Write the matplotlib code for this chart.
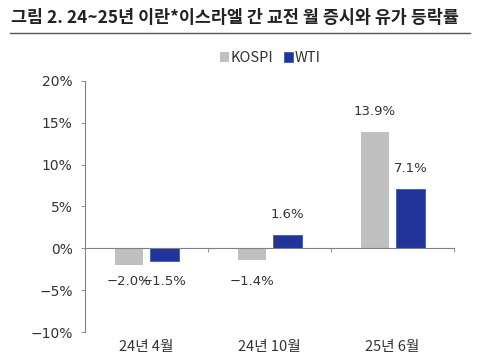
import numpy as np
import matplotlib
matplotlib.use('Agg')
import matplotlib.pyplot as plt
from matplotlib.ticker import FuncFormatter

plt.rcParams['font.family'] = ['Noto Sans CJK KR', 'DejaVu Sans']

# Data
categories = ['24년 4월', '24년 10월', '25년 6월']
kospi = [-2.0, -1.4, 13.9]
wti = [-1.5, 1.6, 7.1]
series_names = ['KOSPI', 'WTI']

kospi_color = '#c0c0c0'
wti_color = '#22349a'
text_color = '#333333'

fig = plt.figure(figsize=(4.81, 3.61), dpi=100)
ax = fig.add_axes([0.177, 0.080, 0.767, 0.696])

x = np.arange(len(categories))
w = 0.23
gap = 0.03
b1 = ax.bar(x - w / 2 - gap, kospi, w, color=kospi_color, label=series_names[0])
b2 = ax.bar(x + w / 2 + gap, wti, w, color=wti_color, edgecolor='#3a58c0', linewidth=0.6,
            label=series_names[1])

# Value labels
for bars, vals in [(b1, kospi), (b2, wti)]:
    for rect, v in zip(bars, vals):
        cx = rect.get_x() + rect.get_width() / 2
        if v >= 0:
            ax.annotate(f'{v:.1f}%', (cx, v), xytext=(0, 10), textcoords='offset points',
                        ha='center', va='bottom', fontsize=9.5, color=text_color,
                        family='DejaVu Sans')
        else:
            ax.annotate(f'{v:.1f}%'.replace('-', '−'), (cx, -1.4), xytext=(0, -11),
                        textcoords='offset points', ha='center', va='top', fontsize=9.5,
                        color=text_color, family='DejaVu Sans')

ax.set_xlim(-0.5, 2.5)
ax.set_ylim(-10, 20)
ax.set_yticks(range(-10, 21, 5))
ax.yaxis.set_major_formatter(FuncFormatter(lambda v, p: f'{int(v)}%'.replace('-', '−')))
for lab in ax.get_yticklabels():
    lab.set_family('DejaVu Sans')

# Axes styling
for s in ['top', 'right']:
    ax.spines[s].set_visible(False)
ax.spines['left'].set_color('#808080')
ax.spines['left'].set_linewidth(0.8)
ax.spines['bottom'].set_position(('data', 0))
ax.spines['bottom'].set_color('#808080')
ax.spines['bottom'].set_linewidth(0.8)
ax.tick_params(axis='y', colors='#808080', labelcolor=text_color, labelsize=10,
               length=3, width=0.6, direction='out', pad=6)

# Category boundary ticks on the zero line
ax.set_xticks([0.5, 1.5, 2.5])
ax.set_xticklabels([])
ax.tick_params(axis='x', colors='#808080', length=3, width=0.6, direction='out')
for i, c in enumerate(categories):
    ax.text(i, -11.0, c, ha='center', va='top', fontsize=10.5, color=text_color,
            transform=ax.transData)

ax.legend(loc='center left', bbox_to_anchor=(0.33, 1.09), ncol=2, frameon=False,
          fontsize=10.5, handlelength=0.6, handleheight=0.6, handletextpad=0.15,
          columnspacing=0.7, labelcolor=text_color)

# Title and rule
fig.text(0.022, 0.950, '그림 2. 24~25년 이란*이스라엘 간 교전 월 증시와 유가 등락률',
         fontsize=12.5, fontweight='bold', color='#222222', va='center', ha='left')
fig.add_artist(plt.Line2D([0.02, 0.977], [0.908, 0.908], color='#555555', linewidth=1.0))

fig.savefig('out.png', dpi=100)
